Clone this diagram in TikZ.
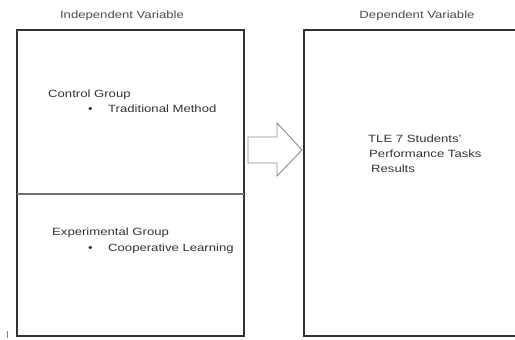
\documentclass[tikz,border=0pt]{standalone}
\usepackage{fontspec}
\setmainfont[FakeStretch=1.25]{Liberation Sans}
\begin{document}
\begin{tikzpicture}[x=1pt,y=-1pt,
  box/.style={draw=black!80, line width=1.8pt, fill=none},
  lbl/.style={anchor=base west, inner sep=0pt, text=black!80, font=\fontsize{10.5}{12}\selectfont},
  hdr/.style={anchor=base, inner sep=0pt, text=black!70, font=\fontsize{10.5}{12}\selectfont},
  bigarrow/.style={draw=black!45, line width=0.9pt, fill=white}]
\useasboundingbox (0,0) rectangle (515,340);
\clip (0,0) rectangle (515,340);
% boxes
\draw[box] (17,30) rectangle (244,336);
\draw[black!55, line width=1.3pt] (17,194) -- (244,194);
\draw[box] (304,30) rectangle (529,336);
% arrow
\draw[bigarrow] (248,137) -- (277,137) -- (277,123) -- (302,150) -- (277,176) -- (277,163) -- (248,163) -- cycle;
% headers
\node[hdr] (h1) at (122,18) {Independent Variable};
\node[hdr] (h2) at (417,18) {Dependent Variable};
% left texts
\node[lbl] (cg) at (48,97) {Control Group};
\node[lbl] (b1) at (88,112) {•};
\node[lbl] (tm) at (108,112) {Traditional Method};
\node[lbl] (eg) at (52,235) {Experimental Group};
\node[lbl] (b2) at (88,251) {•};
\node[lbl] (cl) at (108,251) {Cooperative Learning};
% right texts
\node[lbl] (r1) at (368,142) {TLE 7 Students'};
\node[lbl] (r2) at (369,157) {Performance Tasks};
\node[lbl] (r3) at (371,172) {Results};
% small mark
\draw[black!50, line width=0.8pt] (7.5,331) -- (7.5,338);
\end{tikzpicture}
\end{document}
